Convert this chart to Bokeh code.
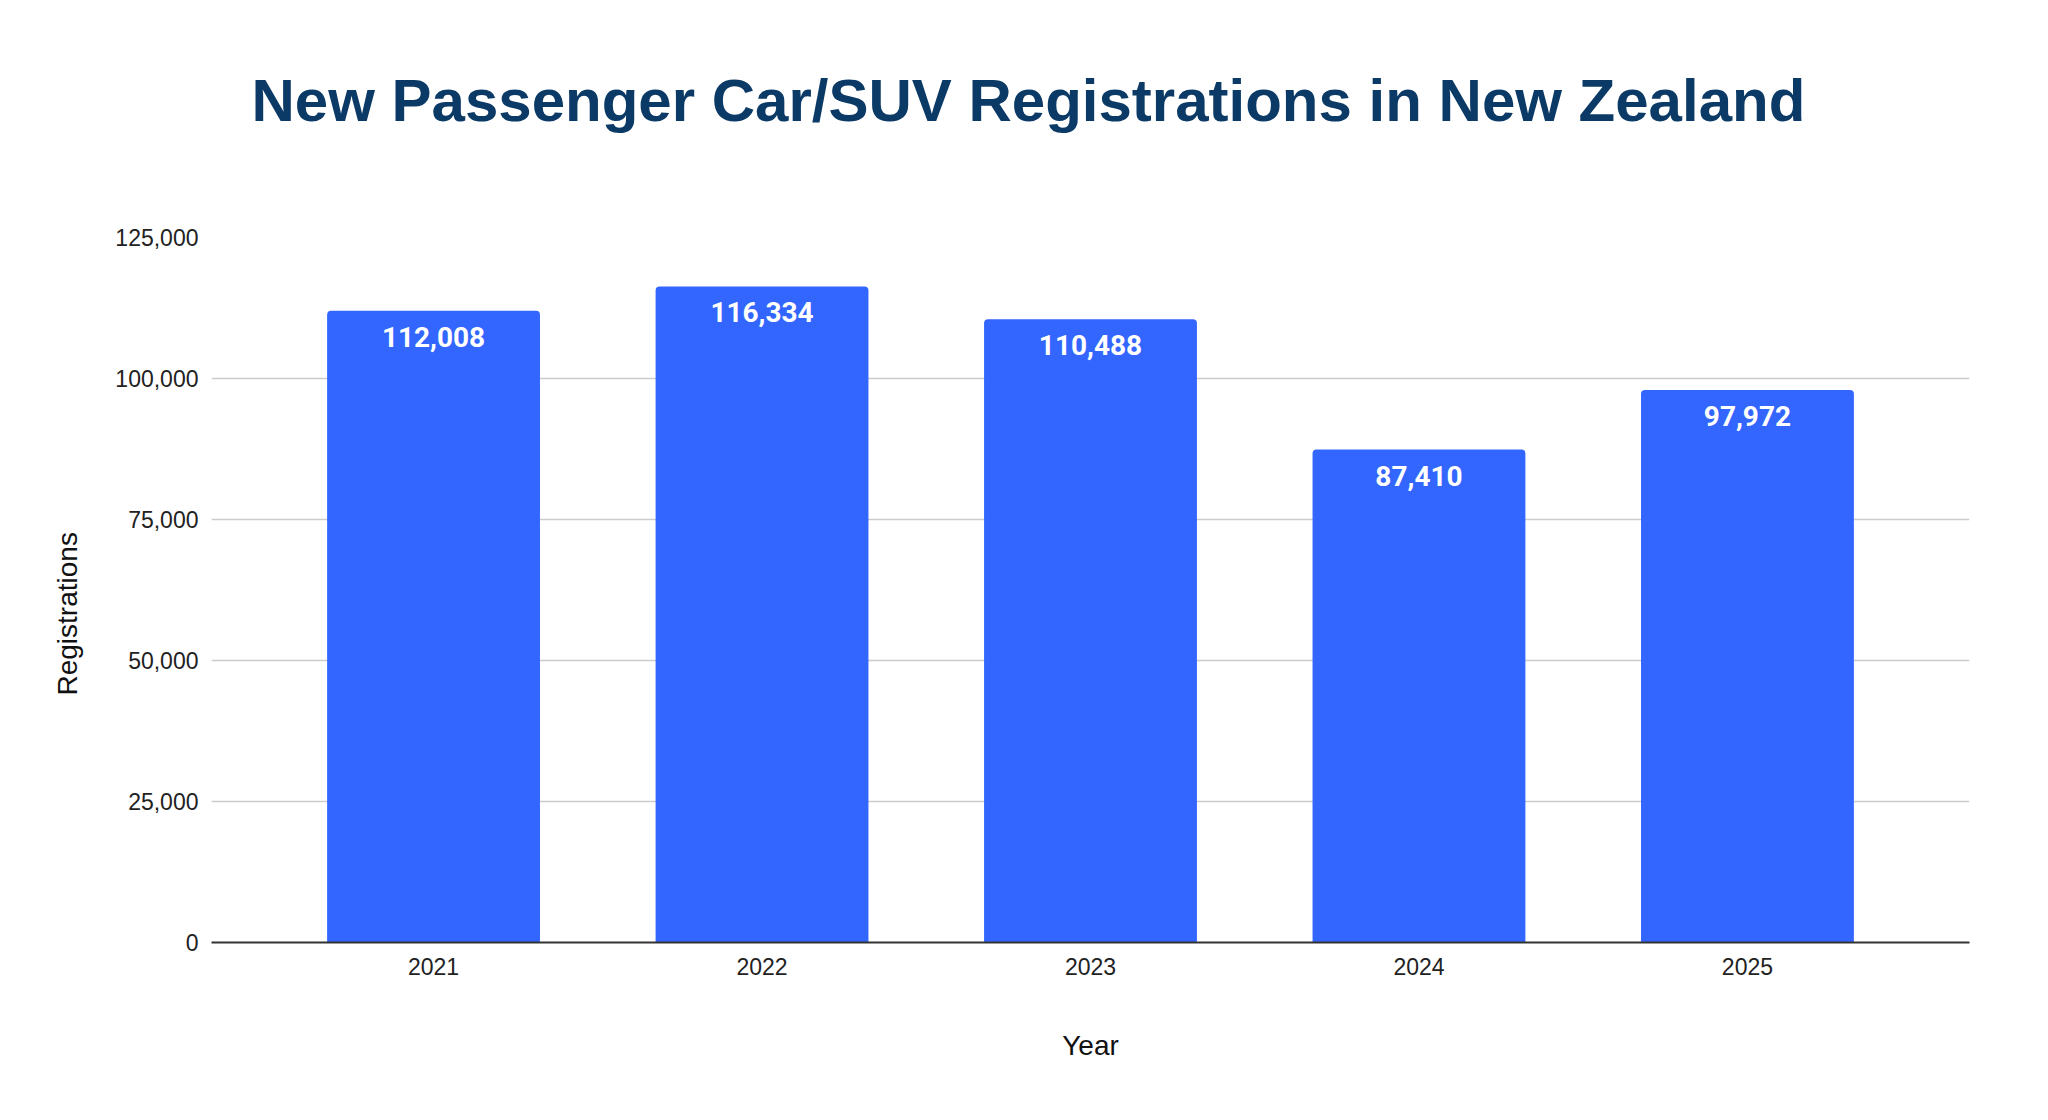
from bokeh.plotting import figure
from bokeh.models import (Range1d, FixedTicker, NumeralTickFormatter, ColumnDataSource,
                          Title, LinearAxis)
from bokeh.core.properties import value
from bokeh.embed import file_html
from bokeh.resources import INLINE

title_text = "New Passenger Car/SUV Registrations in New Zealand"
years = ["2021", "2022", "2023", "2024", "2025"]
registrations = [112008, 116334, 110488, 87410, 97972]
y_ticks = [0, 25000, 50000, 75000, 100000, 125000]
x_title = "Year"
y_title = "Registrations"

xs = list(range(len(years)))
labels = [f"{v:,}" for v in registrations]
src = ColumnDataSource(dict(x=xs, top=registrations, label=labels))

p = figure(width=2040, height=1112, output_backend="svg", toolbar_location=None,
           x_range=Range1d(-0.676, len(years) - 1 + 0.676), y_range=Range1d(0, 125000),
           min_border_left=211, min_border_right=71, min_border_top=237, min_border_bottom=170)
p.outline_line_color = None
p.background_fill_color = "white"
p.border_fill_color = "white"

xax = p.below[0]
yax = p.left[0]

# blank spacer between the frame and the title (invisible line, ticks and labels)
spacer = LinearAxis(ticker=FixedTicker(ticks=xs), axis_line_color=None,
                    major_tick_line_color=None, minor_tick_line_color=None,
                    major_tick_in=0, major_tick_out=99, minor_tick_out=0,
                    major_label_standoff=0, axis_label_standoff=0,
                    major_label_overrides={i: " " for i in xs},
                    major_label_text_alpha=0)
p.add_layout(spacer, "above")

p.title.text = title_text
p.title.text_font = "Liberation Sans"
p.title.text_font_style = "bold"
p.title.text_font_size = "60px"
p.title.text_color = "#0b3a66"
p.title.align = "left"
p.title.offset = 40
p.title.standoff = 10

p.vbar(x="x", top="top", width=0.648, source=src, color="#3366ff", line_color=None,
       border_radius=(4, 4, 0, 0))
p.text(x="x", y="top", text="label", source=src, text_align="center",
       text_baseline="alphabetic", y_offset=26, text_color="white",
       text_font=value("Roboto"), text_font_style="bold", text_font_size="28px")

xax.ticker = FixedTicker(ticks=xs)
xax.major_label_overrides = {i: y for i, y in enumerate(years)}
yax.ticker = FixedTicker(ticks=y_ticks)
yax.formatter = NumeralTickFormatter(format="0,0")

for ax in (xax, yax):
    ax.major_tick_line_color = None
    ax.minor_tick_line_color = None
    ax.major_label_text_font = "Liberation Sans"
    ax.major_label_text_font_size = "23px"
    ax.major_label_text_color = "#222222"
    ax.axis_label_text_font = "Liberation Sans"
    ax.axis_label_text_font_size = "28px"
    ax.axis_label_text_font_style = "normal"
    ax.axis_label_text_color = "#111111"

xax.axis_label = x_title
xax.axis_line_color = "#333333"
xax.axis_line_width = 2
yax.axis_line_color = None
xax.major_label_standoff = 9
yax.major_label_standoff = 7
xax.axis_label_standoff = 52

ytitle = Title(text=y_title, align="left", offset=247, standoff=59,
               text_font="Liberation Sans", text_font_size="28px",
               text_font_style="normal", text_color="#111111")
p.add_layout(ytitle, "left")

p.xgrid.grid_line_color = None
p.ygrid.grid_line_color = "#cccccc"
p.ygrid.grid_line_width = 1.5

open("out.html", "w").write(file_html(p, INLINE))
